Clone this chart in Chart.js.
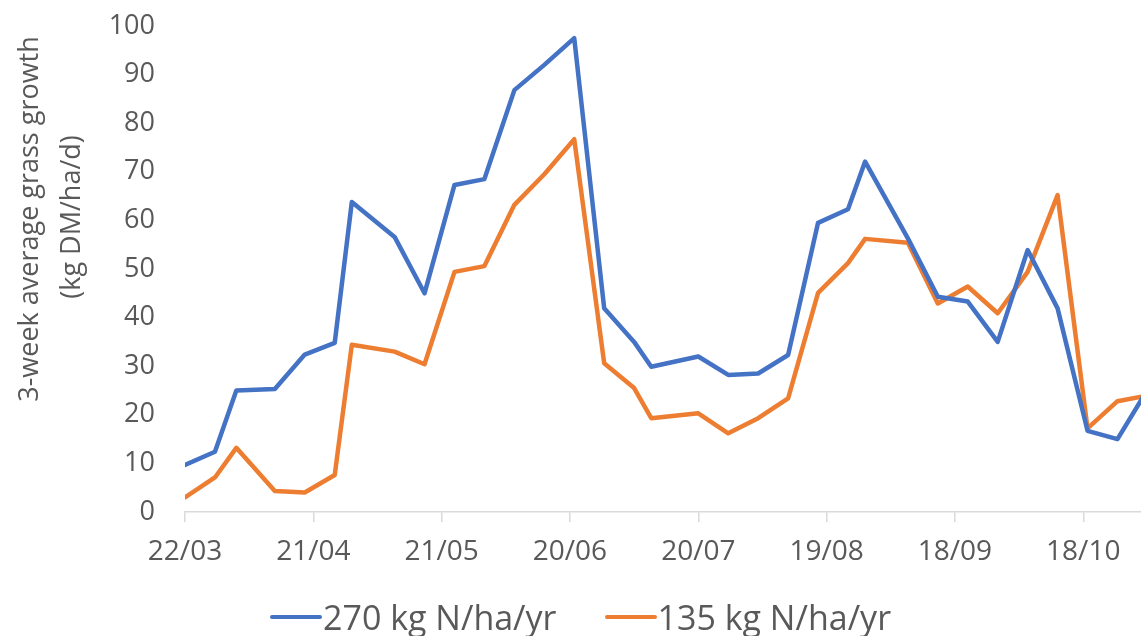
<!DOCTYPE html>
<html>
<head>
<meta charset="utf-8">
<title>3-week average grass growth</title>
<script src="https://cdn.jsdelivr.net/npm/chart.js@4.4.0/dist/chart.umd.min.js"></script>
<style>
  html, body { margin: 0; padding: 0; background: #fff; }
  #wrap { position: relative; width: 1141px; height: 636px; }
  #legend {
    position: absolute; left: 270px; top: 597px; height: 40px;
    display: flex; align-items: center;
    font-family: "Open Sans", "DejaVu Sans", sans-serif; font-size: 34px; line-height: 40px;
    color: #595959; white-space: nowrap;
  }
  .legend-item { display: flex; align-items: center; margin-right: 48px; }
  .legend-swatch { display: inline-block; width: 52px; height: 4px; border-radius: 2px; margin-right: 1px; }
</style>
</head>
<body>
<div id="wrap">
  <canvas id="growthChart"></canvas>
  <div id="legend"></div>
</div>
<script>
// Days counted from 22/03 (first measurement)
var days = [0, 7, 12, 21, 28, 35, 39, 49, 56, 63, 70, 77, 84, 91, 98, 105, 109,
            120, 127, 134, 141, 148, 155, 159, 169, 176, 183, 190, 197, 204, 211, 218, 224];

// 3-week average growth, kg DM/ha/d
var growth270 = [9.7, 12.4, 25.0, 25.3, 32.4, 34.8, 63.8, 56.6, 45.0, 67.3, 68.5, 86.8, 92.0, 97.5, 41.9, 35.0, 29.9,
                 32.0, 28.2, 28.5, 32.3, 59.5, 62.3, 72.1, 56.3, 44.3, 43.3, 35.0, 53.9, 41.9, 16.7, 15.0, 23.7];
var growth135 = [3.0, 7.1, 13.2, 4.3, 4.0, 7.6, 34.4, 33.0, 30.4, 49.4, 50.6, 63.2, 69.5, 76.7, 30.6, 25.5, 19.3,
                 20.3, 16.2, 19.3, 23.4, 45.1, 51.2, 56.2, 55.4, 42.9, 46.4, 40.9, 49.4, 65.2, 17.2, 22.8, 23.8];

// x tick labels, one every 30 days
var tickLabels = ['22/03', '21/04', '21/05', '20/06', '20/07', '19/08', '18/09', '18/10'];

var seriesNames = ['270 kg N/ha/yr', '135 kg N/ha/yr'];
var yTitle = ['3-week average grass growth', '(kg DM/ha/d)'];

var textColor = '#595959';
var fontFamily = '"Open Sans", "DejaVu Sans", sans-serif';

function toPoints(values) {
    return days.map(function(d, i) {
        return { x: d, y: values[i] };
    });
}

// Draw the two-line y axis title (Excel puts it a bit above centre)
var yTitlePlugin = {
    id: 'yTitle',
    afterDraw: function(chart) {
        var ctx = chart.ctx;
        var spots = [[30, 219], [72, 217]];
        ctx.save();
        ctx.fillStyle = textColor;
        ctx.font = '27px ' + fontFamily;
        ctx.textAlign = 'center';
        ctx.textBaseline = 'middle';
        yTitle.forEach(function(line, i) {
            ctx.save();
            ctx.translate(spots[i][0], spots[i][1]);
            ctx.rotate(-Math.PI / 2);
            ctx.fillText(line, 0, 0);
            ctx.restore();
        });
        ctx.restore();
    }
};

var ctx = document.getElementById('growthChart').getContext('2d');

window.myChart = new Chart(ctx, {
    type: 'line',
    data: {
        datasets: [
            {
                label: seriesNames[0],
                data: toPoints(growth270),
                borderColor: '#4472C4',
                backgroundColor: '#4472C4',
                borderWidth: 4.5,
                pointRadius: 0,
                tension: 0,
                borderJoinStyle: 'round',
                borderCapStyle: 'round'
            },
            {
                label: seriesNames[1],
                data: toPoints(growth135),
                borderColor: '#ED7D31',
                backgroundColor: '#ED7D31',
                borderWidth: 4.5,
                pointRadius: 0,
                tension: 0,
                borderJoinStyle: 'round',
                borderCapStyle: 'round'
            }
        ]
    },
    options: {
        responsive: true,
        maintainAspectRatio: false,
        animation: false,
        layout: {
            padding: { top: 26, right: 0, bottom: 64, left: 0 }
        },
        plugins: {
            tooltip: { enabled: false },
            legend: { display: false }
        },
        scales: {
            x: {
                type: 'linear',
                min: 0,
                max: 223.5,
                grid: {
                    display: true,
                    drawOnChartArea: false,
                    drawTicks: true,
                    tickLength: 10,
                    color: '#D9D9D9',
                    lineWidth: 1.5
                },
                border: { display: true, color: '#D9D9D9', width: 1.5 },
                afterFit: function(scale) {
                    scale.height = 60;
                },
                ticks: {
                    stepSize: 30,
                    includeBounds: false,
                    autoSkip: false,
                    maxRotation: 0,
                    padding: 13,
                    color: textColor,
                    font: { family: fontFamily, size: 28 },
                    callback: function(value) {
                        var label = tickLabels[value / 30];
                        return label === undefined ? null : label;
                    }
                }
            },
            y: {
                min: 0,
                max: 100,
                grid: { display: false, drawTicks: false },
                border: { display: false },
                afterFit: function(scale) {
                    scale.width = 185;
                    scale.paddingTop = 0;
                    scale.paddingBottom = 0;
                },
                ticks: {
                    stepSize: 10,
                    padding: 30,
                    color: textColor,
                    font: { family: fontFamily, size: 27 }
                }
            }
        }
    },
    plugins: [yTitlePlugin]
});

// HTML legend built from the datasets
var legendBox = document.getElementById('legend');
window.myChart.data.datasets.forEach(function(ds) {
    var item = document.createElement('span');
    item.className = 'legend-item';
    var swatch = document.createElement('span');
    swatch.className = 'legend-swatch';
    swatch.style.background = ds.borderColor;
    item.appendChild(swatch);
    item.appendChild(document.createTextNode(ds.label));
    legendBox.appendChild(item);
});
</script>
</body>
</html>
